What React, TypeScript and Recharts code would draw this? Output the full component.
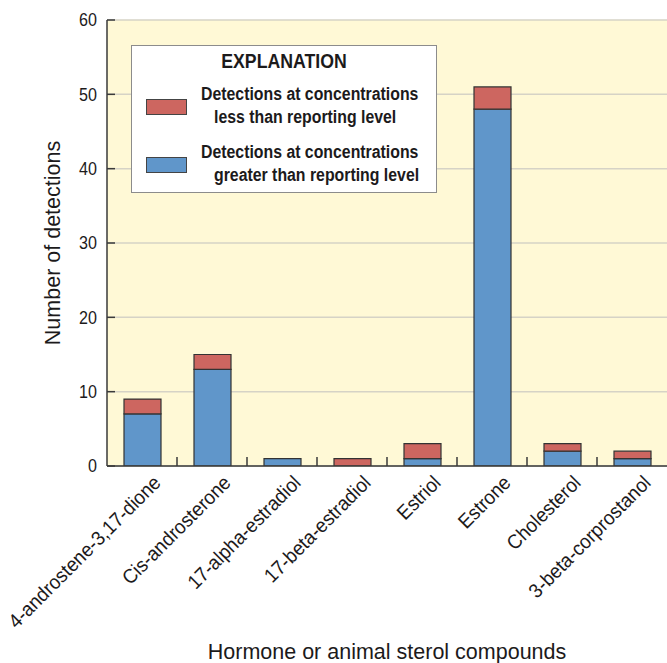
import { BarChart, Bar, XAxis, YAxis, CartesianGrid, Legend } from 'recharts';

const compounds = [
  '4-androstene-3,17-dione',
  'Cis-androsterone',
  '17-alpha-estradiol',
  '17-beta-estradiol',
  'Estriol',
  'Estrone',
  'Cholesterol',
  '3-beta-corprostanol',
];
const greaterThanLevel = [7, 13, 1, 0, 1, 48, 2, 1];
const lessThanLevel = [2, 2, 0, 1, 2, 3, 1, 1];
const yTicks = [0, 10, 20, 30, 40, 50, 60];

const greaterName = 'Detections at concentrations greater than reporting level';
const lessName = 'Detections at concentrations less than reporting level';
const legendLines: Record<string, string[]> = {
  [lessName]: ['Detections at concentrations', 'less than reporting level'],
  [greaterName]: ['Detections at concentrations', 'greater than reporting level'],
};

const data = compounds.map((name, i) => ({
  name,
  greater: greaterThanLevel[i],
  less: lessThanLevel[i],
}));

// no condensed font installed, so Liberation Sans is squeezed a little to look like the original
const FONT = "'Liberation Sans', Arial, sans-serif";
const INK = '#1c1a1b';
const FRAME = '#3a3a3a';
const INNER_TICK = 8;

function YTickLeft({ x, y, payload }: any) {
  const axisX = x + 10; // tickMargin
  return (
    <g>
      <line x1={axisX} y1={y} x2={axisX + INNER_TICK} y2={y} stroke={FRAME} strokeWidth={1.5} />
      <text
        transform={`translate(${x} ${y}) scale(0.87 1)`}
        textAnchor="end"
        dominantBaseline="central"
        fontSize={18.5}
        fill={INK}
        fontFamily={FONT}
      >
        {payload.value}
      </text>
    </g>
  );
}

function YTickRight({ x, y }: any) {
  return <line x1={x} y1={y} x2={x - INNER_TICK} y2={y} stroke={FRAME} strokeWidth={1.5} />;
}

function XTick({ x, y, payload, index }: any) {
  const tx = x + 20;
  const ty = y + 18;
  const left = x - payload.offset;
  return (
    <g>
      {index > 0 && <line x1={left} y1={y} x2={left} y2={y - 9} stroke={FRAME} strokeWidth={1.5} />}
      <text
        transform={`translate(${tx} ${ty}) rotate(-45) scale(0.94 1)`}
        textAnchor="end"
        fontSize={20}
        fill={INK}
        fontFamily={FONT}
      >
        {payload.value}
      </text>
    </g>
  );
}

function XTickTop({ x, y, payload, index }: any) {
  if (index === 0) return null;
  const left = x - payload.offset;
  return <line x1={left} y1={y} x2={left} y2={y + 9} stroke={FRAME} strokeWidth={1.5} />;
}

function YTitle({ viewBox }: any) {
  const cx = viewBox.x + 53;
  const cy = viewBox.y + viewBox.height / 2;
  return (
    <text
      x={cx}
      y={cy}
      transform={`rotate(-90 ${cx} ${cy})`}
      textAnchor="middle"
      dominantBaseline="central"
      fontSize={21.5}
      fill={INK}
      fontFamily={FONT}
    >
      Number of detections
    </text>
  );
}

function Explanation({ payload }: any) {
  const items = [...(payload || [])].reverse();
  const lineStyle = {
    position: 'absolute' as const,
    fontSize: 18,
    lineHeight: '23px',
    whiteSpace: 'nowrap' as const,
    transform: 'scaleX(0.88)',
    transformOrigin: 'left center',
  };
  return (
    <div
      style={{
        width: 306,
        height: 148,
        boxSizing: 'border-box',
        border: '1.5px solid #8c8c8c',
        background: '#fff',
        position: 'relative',
        fontFamily: FONT,
        fontWeight: 700,
        color: INK,
      }}
    >
      <div
        style={{
          position: 'absolute',
          top: 4,
          left: 0,
          right: 0,
          textAlign: 'center',
          fontSize: 20,
          transform: 'scaleX(0.885)',
        }}
      >
        EXPLANATION
      </div>
      {items.map((item: any, i: number) => {
        const lines = legendLines[item.value] || [item.value];
        return (
          <div key={item.value} style={{ position: 'absolute', left: 0, top: 37 + i * 58, width: '100%' }}>
            <div
              style={{
                position: 'absolute',
                left: 14,
                top: 16,
                width: 41,
                height: 16,
                boxSizing: 'border-box',
                background: item.color,
                border: '1px solid #444',
              }}
            />
            <div style={{ ...lineStyle, left: 69, top: 0 }}>{lines[0]}</div>
            <div style={{ ...lineStyle, left: 82, top: 23 }}>{lines[1]}</div>
          </div>
        );
      })}
    </div>
  );
}

export default function App() {
  return (
    <div style={{ position: 'absolute', left: 0, top: 0, width: 667, height: 663, background: '#fff' }}>
      <BarChart width={667} height={663} data={data} margin={{ top: 20, right: 0, bottom: 0, left: 0 }} barSize={37}>
        <CartesianGrid vertical={false} stroke="#d6d3c6" strokeWidth={1.5} fill="#fff9d6" fillOpacity={1} />
        <XAxis
          xAxisId="top"
          orientation="top"
          dataKey="name"
          height={0}
          interval={0}
          tick={<XTickTop />}
          tickLine={false}
          tickSize={0}
          tickMargin={0}
          axisLine={{ stroke: FRAME, strokeWidth: 1.5 }}
        />
        <XAxis
          dataKey="name"
          height={197}
          interval={0}
          tick={<XTick />}
          tickLine={false}
          tickSize={0}
          tickMargin={0}
          axisLine={{ stroke: FRAME, strokeWidth: 1.5 }}
          label={{ value: 'Hormone or animal sterol compounds', position: 'insideBottom', offset: 4, fontSize: 21.5, fill: INK, fontFamily: FONT }}
        />
        <YAxis
          width={107}
          domain={[0, 60]}
          ticks={yTicks}
          tick={<YTickLeft />}
          tickLine={false}
          tickSize={0}
          tickMargin={10}
          axisLine={{ stroke: FRAME, strokeWidth: 1.5 }}
          allowDataOverflow
          label={<YTitle />}
        />
        <YAxis
          yAxisId="right"
          orientation="right"
          width={0}
          domain={[0, 60]}
          ticks={yTicks}
          tick={<YTickRight />}
          tickLine={false}
          tickSize={0}
          tickMargin={0}
          axisLine={{ stroke: FRAME, strokeWidth: 1.5 }}
          allowDataOverflow
        />
        <Legend
          layout="horizontal"
          verticalAlign="middle"
          align="center"
          content={<Explanation />}
          wrapperStyle={{ left: 131, top: 45, width: 306, height: 148 }}
        />
        <Bar dataKey="greater" name={greaterName} stackId="d" fill="#6096ca" stroke="#333" strokeWidth={1.2} isAnimationActive={false} />
        <Bar dataKey="less" name={lessName} stackId="d" fill="#cd6660" stroke="#333" strokeWidth={1.2} isAnimationActive={false} />
      </BarChart>
    </div>
  );
}
